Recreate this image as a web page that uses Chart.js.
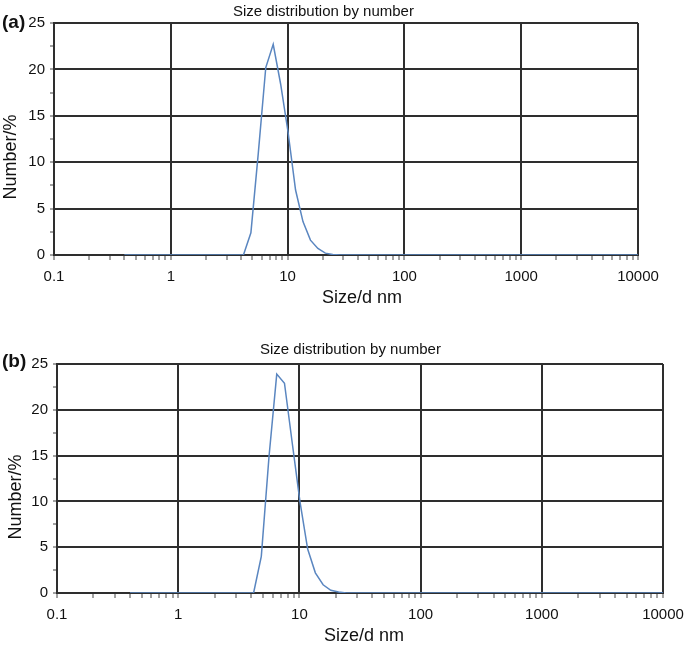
<!DOCTYPE html>
<html>
<head>
<meta charset="utf-8">
<script src="https://cdn.jsdelivr.net/npm/chart.js@4.4.1/dist/chart.umd.min.js"></script>
<style>
  html, body { margin: 0; padding: 0; background: #fff; overflow: hidden; }
  body { width: 685px; height: 645px; position: relative; font-family: "Liberation Sans", Arial, sans-serif; color: #111; }
  canvas { position: absolute; left: 0; }
  .tag { position: absolute; left: 2px; font-weight: bold; font-size: 19px; line-height: 20px; }
  .ttl { position: absolute; font-size: 15px; line-height: 17px; white-space: nowrap; }
  .ax { position: absolute; font-size: 18px; line-height: 20px; white-space: nowrap; transform: translate(-50%, -50%); }
  .ax.v { transform: translate(-50%, -50%) rotate(-90deg); }
</style>
</head>
<body>
<canvas id="chart-a" width="685" height="315" style="top:0"></canvas>
<canvas id="chart-b" width="685" height="320" style="top:330px"></canvas>
<div class="tag" style="top:12px">(a)</div>
<div class="ttl" style="left:233px;top:2px">Size distribution by number</div>
<div class="ax v" style="left:10px;top:157px">Number/%</div>
<div class="ax" style="left:362px;top:297px">Size/d nm</div>
<div class="tag" style="top:351px">(b)</div>
<div class="ttl" style="left:260px;top:340px">Size distribution by number</div>
<div class="ax v" style="left:15px;top:497px">Number/%</div>
<div class="ax" style="left:364px;top:635px">Size/d nm</div>
<script>
/* Size distribution by number, two samples */
(() => {
  "use strict";

  // size bins (d, nm)
  const SIZES = [
    0.400, 0.463, 0.536, 0.621, 0.720, 0.833, 0.965, 1.117, 1.294, 1.499,
    1.736, 2.010, 2.328, 2.696, 3.122, 3.615, 4.188, 4.850, 5.615, 6.503,
    7.531, 8.723, 10.10, 11.70, 13.54, 15.69, 18.17, 21.04, 24.37, 28.22,
    32.67, 37.86, 43.82, 50.75, 58.77, 68.06, 78.82, 91.28, 105.7, 122.4,
    141.8, 164.2, 190.1, 220.2, 255.0, 295.3, 342.0, 396.1, 458.7, 531.2,
    615.1, 712.4, 825.0, 955.4, 1106, 1281, 1484, 1718, 1990, 2305,
    2669, 3091, 3580, 4145, 4801, 5560, 6439, 7456, 8635, 10000,
  ];
  // number % per bin, panel (a)
  const NUMBER_A = [
    0, 0, 0, 0, 0, 0, 0, 0, 0, 0,
    0, 0, 0, 0, 0, 0, 0, 2.4, 11, 20.2,
    22.7, 18.4, 13.2, 7.0, 3.6, 1.6, 0.7, 0.2, 0.05, 0,
    0, 0, 0, 0, 0, 0, 0, 0, 0, 0,
    0, 0, 0, 0, 0, 0, 0, 0, 0, 0,
    0, 0, 0, 0, 0, 0, 0, 0, 0, 0,
    0, 0, 0, 0, 0, 0, 0, 0, 0, 0,
  ];
  // number % per bin, panel (b)
  const NUMBER_B = [
    0, 0, 0, 0, 0, 0, 0, 0, 0, 0,
    0, 0, 0, 0, 0, 0, 0, 4.0, 14.9, 23.9,
    22.9, 16.4, 10.0, 4.8, 2.2, 0.9, 0.3, 0.1, 0, 0,
    0, 0, 0, 0, 0, 0, 0, 0, 0, 0,
    0, 0, 0, 0, 0, 0, 0, 0, 0, 0,
    0, 0, 0, 0, 0, 0, 0, 0, 0, 0,
    0, 0, 0, 0, 0, 0, 0, 0, 0, 0,
  ];
  const X_MAJOR = [0.1, 1, 10, 100, 1000, 10000];
  const X_LABELS = ["0.1", "1", "10", "100", "1000", "10000"];
  const X_MINOR = [2, 3, 4, 5, 6, 7, 8, 9];
  const Y_MAJOR = [0, 5, 10, 15, 20, 25];
  const Y_STEP = 2.5;

  const FONT = '"Liberation Sans", Arial, sans-serif';
  const INK = "#111";
  const GRID = "#2e2e2e";
  const TICK = "#444";
  const LINE = "#5a86c0";

  const X_TICKS = X_MAJOR.flatMap((d, i) =>
    i === X_MAJOR.length - 1 ? [d] : [d, ...X_MINOR.map((m) => +(d * m).toPrecision(3))]);

  function build(id, values, o) {
    return new Chart(document.getElementById(id), {
      type: "line",
      data: { datasets: [{
        data: SIZES.map((s, i) => ({ x: s, y: values[i] })),
        borderColor: LINE, borderWidth: 1.5, pointRadius: 0, tension: 0, fill: false,
      }] },
      options: {
        responsive: false, animation: false, devicePixelRatio: 1,
        layout: { padding: { top: o.top, right: o.right, left: 0, bottom: 0 } },
        plugins: { legend: { display: false }, tooltip: { enabled: false } },
        scales: {
          x: {
            type: "logarithmic", min: 0.1, max: 10000,
            afterBuildTicks: (s) => { s.ticks = X_TICKS.map((v) => ({ value: v })); },
            afterFit: (s) => { s.height = o.xh; s.paddingLeft = 0; s.paddingRight = 0; },
            ticks: { autoSkip: false, maxRotation: 0, padding: 8, color: INK,
              font: { size: 15, family: FONT },
              callback: (v) => { const i = X_MAJOR.indexOf(v); return i < 0 ? "" : X_LABELS[i]; } },
            grid: { color: (c) => X_MAJOR.includes(c.tick && c.tick.value) ? GRID : "transparent",
              lineWidth: 2, tickLength: 5, tickColor: TICK, tickWidth: 1 },
            border: { color: GRID, width: 2 },
          },
          y: {
            min: 0, max: 25,
            afterFit: (s) => { s.width = o.yw; s.paddingTop = 0; s.paddingBottom = 0; },
            ticks: { stepSize: Y_STEP, padding: 5, color: INK, font: { size: 15, family: FONT },
              callback: (v) => Y_MAJOR.includes(v) ? String(v) : "" },
            grid: { color: (c) => Y_MAJOR.includes(c.tick && c.tick.value) ? GRID : "transparent",
              lineWidth: 2, tickLength: 4, tickColor: TICK, tickWidth: 1 },
            border: { color: GRID, width: 2 },
          },
        },
      },
    });
  }

  build("chart-a", NUMBER_A, { top: 23, right: 47, xh: 60, yw: 54 });
  build("chart-b", NUMBER_B, { top: 34, right: 22, xh: 57, yw: 57 });
})();
</script>
</body>
</html>
